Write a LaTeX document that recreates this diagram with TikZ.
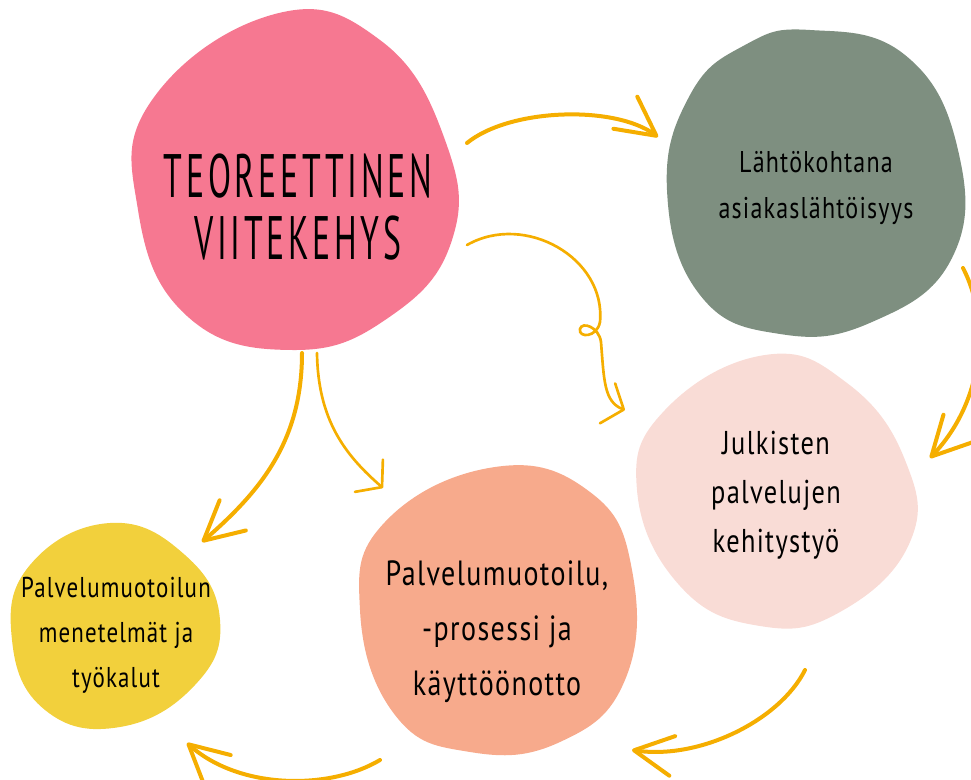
\documentclass[tikz,border=0pt]{standalone}
\usepackage{fontspec}
\setmainfont{PT Sans}
\newfontfamily\handfont{PT Sans}[FakeStretch=0.8,LetterSpace=4]
\newfontfamily\titlefont{PT Sans}[FakeStretch=0.55,LetterSpace=6]
\usepackage{tikz}
\usetikzlibrary{arrows.meta}
\usetikzlibrary{positioning}
\definecolor{teoriapink}{HTML}{F67891}
\definecolor{lahtogreen}{HTML}{7E8F80}
\definecolor{julkinenrose}{HTML}{F9DCD6}
\definecolor{prosessisalmon}{HTML}{F7AA8C}
\definecolor{menetelmayellow}{HTML}{F2D03C}
\definecolor{arrowyellow}{HTML}{F5AE00}

\begin{document}
\begin{tikzpicture}[x=0.75pt,y=0.75pt,yscale=-1,xscale=1]
 \tikzstyle{arrow} = [line width=3pt,color=arrowyellow,line cap=round,-{Straight Barb[length=29pt,width=30pt,round]}]
 \tikzstyle{thinarrow} = [line width=2pt,color=arrowyellow,line cap=round,-{Straight Barb[length=13pt,width=32pt,round]}]
 \tikzstyle{label} = [inner sep=0.75pt,align=center,text=black]
 \tikzstyle{blob} = [smooth cycle,tension=0.75]
 %set diagram size to 971 x 780
 \useasboundingbox (0,0) rectangle (971,780);
 \clip (0,0) rectangle (971,780);

 %Draw the blobs
 \fill [teoriapink] plot [blob] coordinates {(275,14) (380,40) (445,140) (452,240) (388,318) (292,350) (187,316) (138,210) (152,100)};
 \fill [lahtogreen] plot [blob] coordinates {(810,30) (905,55) (958,150) (952,258) (872,322) (780,334) (700,295) (667,190) (690,95) (745,45)};
 \fill [julkinenrose] plot [blob] coordinates {(765,355) (847,383) (905,460) (910,542) (840,612) (760,626) (680,586) (637,490) (665,410)};
 \fill [prosessisalmon] plot [blob] coordinates {(495,467) (590,492) (632,570) (625,680) (560,742) (470,752) (395,715) (360,610) (385,522)};
 \fill [menetelmayellow] plot [blob] coordinates {(110,523) (185,555) (220,620) (195,685) (120,727) (45,710) (12,640) (30,565)};

 %Labelling
 \node [label,font={\titlefont\fontsize{46}{47}\selectfont}] (teoria) at (298,207) {TEOREETTINEN\\VIITEKEHYS};
 \node [label,font={\handfont\fontsize{22.5}{34.5}\selectfont}] (lahto) at (816,188) {Lähtökohtana\\asiakaslähtöisyys};
 \node [label,font={\handfont\fontsize{24.75}{36.75}\selectfont}] (julkiset) at (776,495) {Julkisten\\palvelujen\\kehitystyö};
 \node [label,font={\handfont\fontsize{26.25}{41.25}\selectfont}] (prosessi) at (497,632) {Palvelumuotoilu,\\-prosessi ja\\käyttöönotto};
 \node [label,font={\handfont\fontsize{21.5}{33.75}\selectfont}] (menetelma) at (116,635) {Palvelumuotoilun\\menetelmät ja\\työkalut};

 %Arrow ends
 \coordinate (a1s) at (467,143); \coordinate (a1e) at (658,137);
 \coordinate (a2s) at (467,245); \coordinate (a2e) at (625,410);
 \coordinate (a3s) at (963,268); \coordinate (a3e) at (930,458);
 \coordinate (a4s) at (302,353); \coordinate (a4e) at (202,542);
 \coordinate (a5s) at (317,353); \coordinate (a5e) at (383,488);
 \coordinate (a6s) at (805,670); \coordinate (a6e) at (632,750);
 \coordinate (a7s) at (380,760); \coordinate (a7e) at (187,743);

 %Draw the arrows
 \draw [arrow] (a1s) .. controls (510,108) and (615,105) .. (a1e);
 \draw [thinarrow] (a2s) .. controls (525,212) and (606,258) .. (600,322)
   .. controls (597,338) and (578,338) .. (580,329)
   .. controls (582,321) and (599,327) .. (601,342)
   .. controls (604,380) and (604,402) .. (a2e);
 \draw [arrow] (a3s) .. controls (990,320) and (985,400) .. (a3e);
 \draw [arrow] (a4s) .. controls (302,440) and (262,490) .. (a4e);
 \draw [thinarrow] (a5s) .. controls (318,420) and (345,455) .. (a5e);
 \draw [arrow] (a6s) .. controls (780,720) and (700,760) .. (a6e);
 \draw [arrow] (a7s) .. controls (330,790) and (240,790) .. (a7e);
\end{tikzpicture}
\end{document}
